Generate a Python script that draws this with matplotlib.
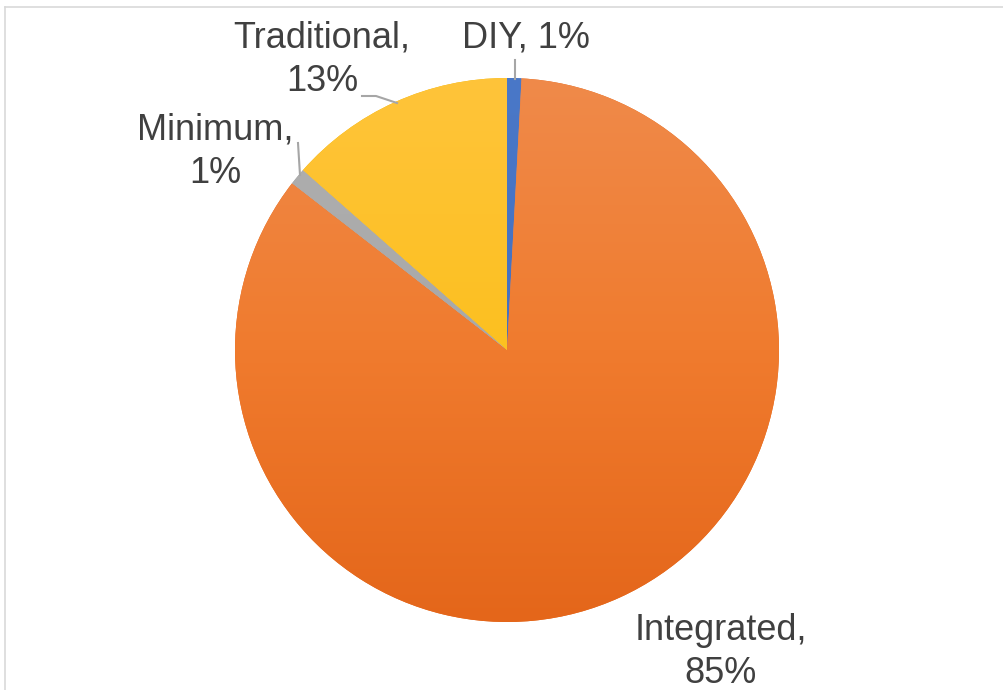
import numpy as np
import matplotlib
matplotlib.use("Agg")
import matplotlib.pyplot as plt
from matplotlib.colors import LinearSegmentedColormap

labels = ["DIY", "Integrated", "Minimum", "Traditional"]
shares = [0.85, 84.65, 1.0, 13.5]
label_pct = ["1%", "85%", "1%", "13%"]

# colours: stops of the vertical gradient (top -> bottom) for each slice
grad = [("#4a78c8", "#4069b8"),
        ("#ef8a4a", "#f07b2e", "#e4661a"),
        ("#b0b0b0", "#a0a0a0"),
        ("#ffc43a", "#fcc020", "#efb500")]

W, H = 1004, 690
fig = plt.figure(figsize=(W / 100, H / 100), dpi=100)
ax = fig.add_axes([0, 0, 1, 1])

cx, cy, R = 507, H - 350, 272
wedges, _ = ax.pie(shares, colors=[g[-1] for g in grad], startangle=90,
                   counterclock=False, center=(cx, cy), radius=R,
                   wedgeprops=dict(linewidth=0))
ax.set_aspect("equal")
ax.axis("off")

# gradient fill clipped to each wedge
ramp = np.linspace(0, 1, 256).reshape(-1, 1)
for w, stops in zip(wedges, grad):
    cmap = LinearSegmentedColormap.from_list("g", list(stops))
    im = ax.imshow(ramp, cmap=cmap, aspect="auto",
                   extent=(cx - R, cx + R, cy - R, cy + R), origin="upper",
                   zorder=w.get_zorder() + 0.1)
    im.set_clip_path(w)

ax.set_xlim(0, W)
ax.set_ylim(0, H)

txt = "#404040"
lead = "#a6a6a6"
fs = 26

def y(v):
    return H - v

# label positions in pixel coordinates (x centre, first-line baseline)
pos = {"DIY": (526, 48), "Integrated": (721, 640),
       "Minimum": (215, 140), "Traditional": (322, 48)}
single = {"DIY": True}

for lab, pct in zip(labels, label_pct):
    px, pyb = pos[lab]
    if single.get(lab):
        ax.text(px, y(pyb), f"{lab}, {pct}", ha="center", va="baseline",
                fontsize=fs, color=txt, family="Liberation Sans")
    else:
        ax.text(px, y(pyb), f"{lab},", ha="center", va="baseline",
                fontsize=fs, color=txt, family="Liberation Sans")
        ax.text(px, y(pyb + 43), pct, ha="center", va="baseline",
                fontsize=fs, color=txt, family="Liberation Sans")

# leader lines
ax.plot([515, 515], [y(60), y(79)], color=lead, lw=1.5, zorder=5)
ax.plot([362, 376, 397], [y(96), y(96), y(103)], color=lead, lw=1.5, zorder=5)
ax.plot([298, 300], [y(143), y(175)], color=lead, lw=1.5, zorder=5)

# thin frame lines of the chart area
ax.plot([5, W], [y(7), y(7)], color="#d9d9d9", lw=1.2)
ax.plot([5, 5], [y(7), 0], color="#d9d9d9", lw=1.2)

fig.savefig("out.png", dpi=100, facecolor="white")
